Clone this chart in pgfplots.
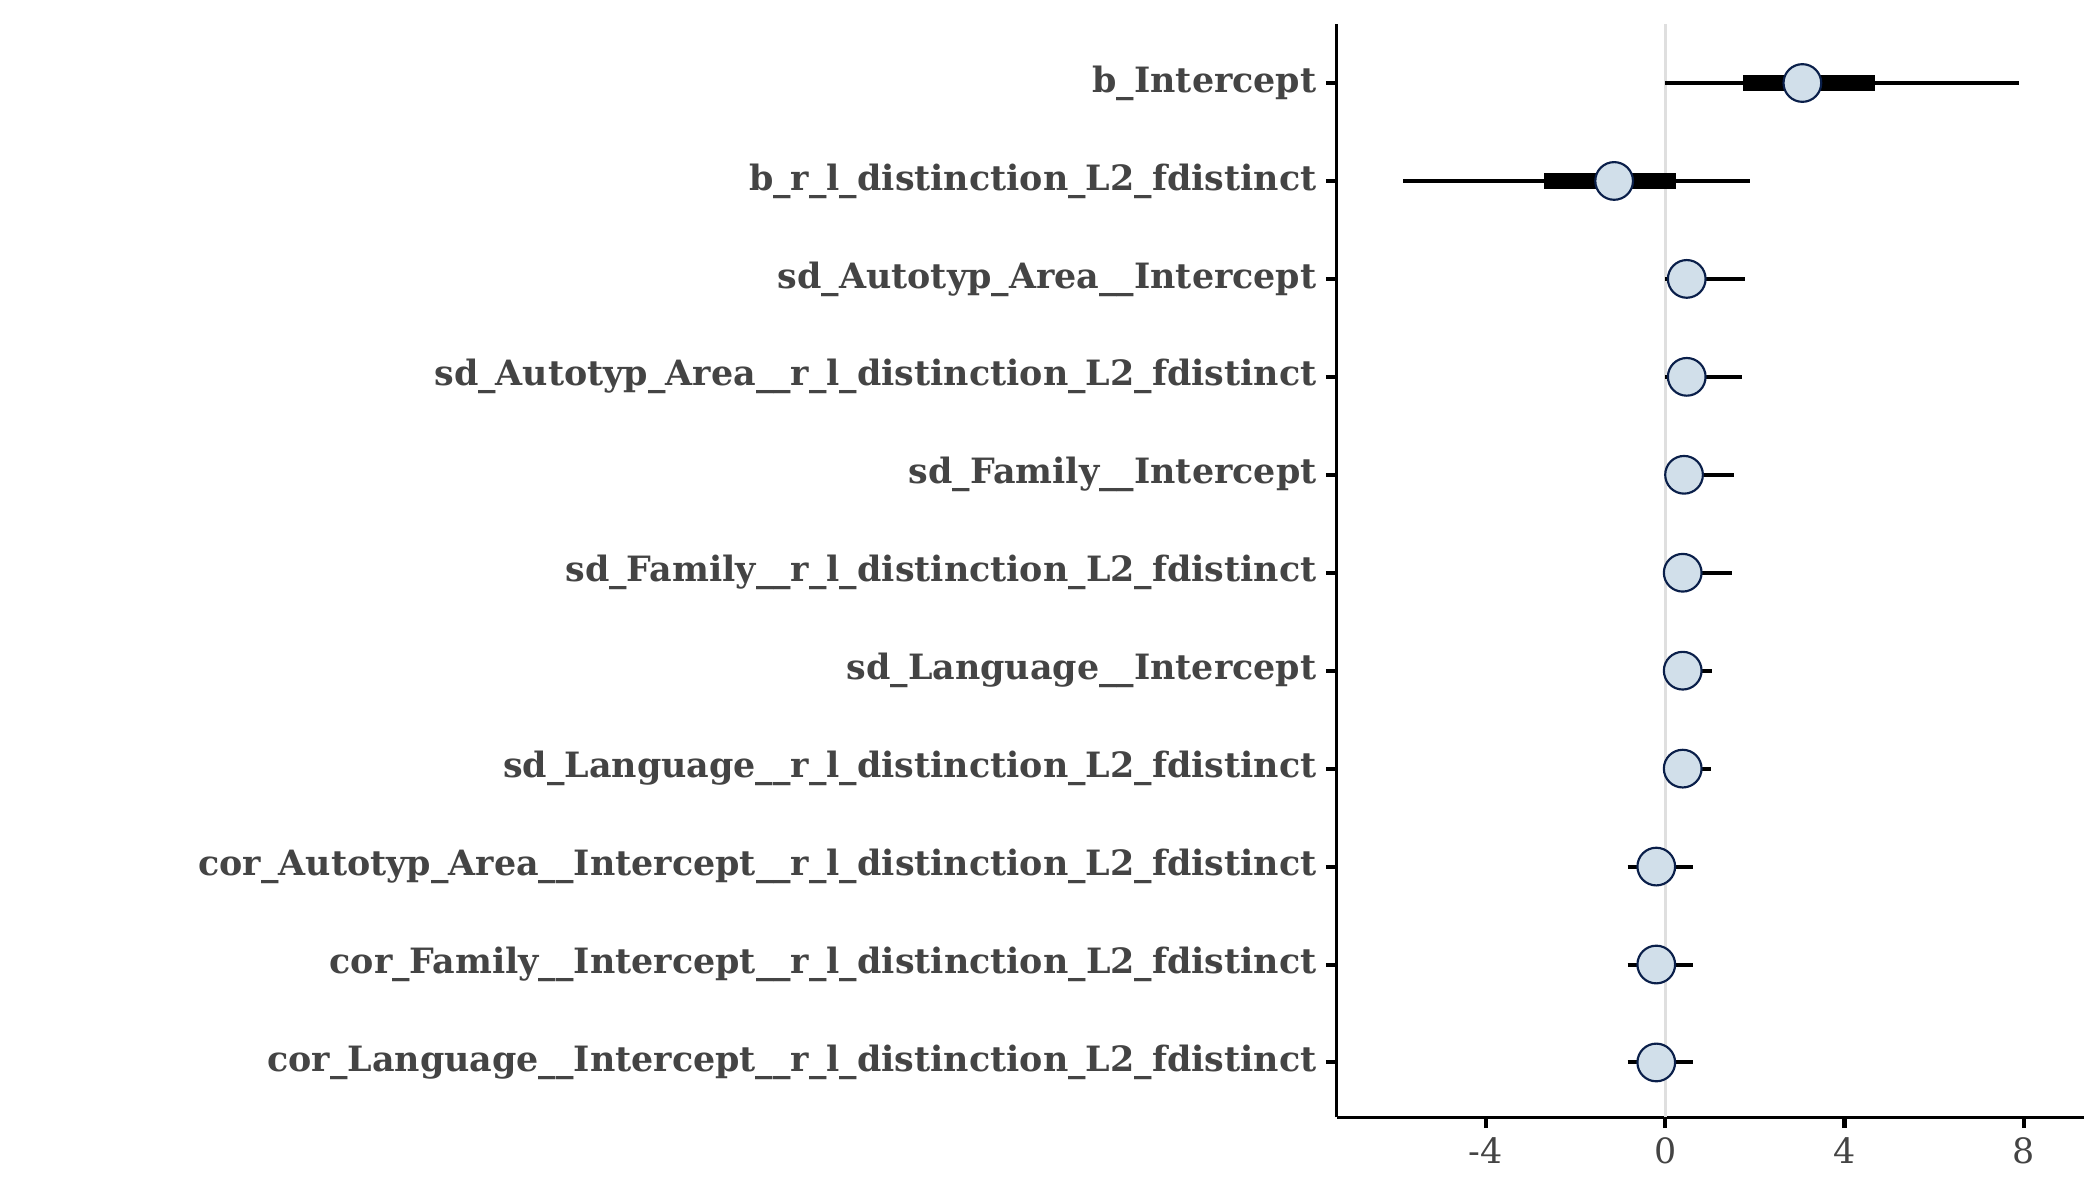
\documentclass[border=0pt]{standalone}
\usepackage{pgfplots}
\pgfplotsset{compat=1.18}
\usepackage{fontspec}
\setmainfont{DejaVu Serif}
\definecolor{thin}{HTML}{5B96BB}
\definecolor{thick}{HTML}{003A70}
\definecolor{mfill}{HTML}{D1DFEA}
\definecolor{medge}{HTML}{0A1F4A}
\definecolor{lab}{HTML}{444444}
\begin{document}
\begin{tikzpicture}
\useasboundingbox (0bp,0bp) rectangle (780bp,-445.5bp);
\begin{axis}[at={(496.5bp,-415bp)},anchor=south west,
  width=277.5bp,height=406bp,scale only axis,
  xmin=-7.33,xmax=9.34,ymin=0.44,ymax=11.6,
  axis x line*=bottom, axis y line*=left,
  axis line style={line width=1bp,black},
  tick align=outside,
  xtick={-4,0,4,8}, xticklabels={-4,0,4,8},
  major tick length=4bp,
  every tick/.style={line width=1.5bp,black},
  ytick={1,...,11},
  yticklabels={cor\_Language\_\_Intercept\_\_r\_l\_distinction\_L2\_fdistinct,
    cor\_Family\_\_Intercept\_\_r\_l\_distinction\_L2\_fdistinct,
    cor\_Autotyp\_Area\_\_Intercept\_\_r\_l\_distinction\_L2\_fdistinct,
    sd\_Language\_\_r\_l\_distinction\_L2\_fdistinct,
    sd\_Language\_\_Intercept,
    sd\_Family\_\_r\_l\_distinction\_L2\_fdistinct,
    sd\_Family\_\_Intercept,
    sd\_Autotyp\_Area\_\_r\_l\_distinction\_L2\_fdistinct,
    sd\_Autotyp\_Area\_\_Intercept,
    b\_r\_l\_distinction\_L2\_fdistinct,
    b\_Intercept},
  yticklabel style={font=\fontsize{13}{15}\selectfont\bfseries,text=lab},
  xticklabel style={font=\fontsize{13}{15}\selectfont,text=lab},
  /pgf/number format/assume math mode=true,
  clip=false]
\addplot[gray!25,line width=1.2bp,forget plot] coordinates {(0,0.44)(0,11.6)};
\addplot[thin,line width=1.5bp] coordinates {(0,11)(7.9,11)};
\addplot[thin,line width=1.5bp] coordinates {(-5.85,10)(1.89,10)};
\addplot[thin,line width=1.5bp] coordinates {(0,9)(1.77,9)};
\addplot[thin,line width=1.5bp] coordinates {(0,8)(1.71,8)};
\addplot[thin,line width=1.5bp] coordinates {(0,7)(1.53,7)};
\addplot[thin,line width=1.5bp] coordinates {(0,6)(1.5,6)};
\addplot[thin,line width=1.5bp] coordinates {(0,5)(1.05,5)};
\addplot[thin,line width=1.5bp] coordinates {(0,4)(1.02,4)};
\addplot[thin,line width=1.5bp] coordinates {(-0.84,3)(0.63,3)};
\addplot[thin,line width=1.5bp] coordinates {(-0.84,2)(0.63,2)};
\addplot[thin,line width=1.5bp] coordinates {(-0.84,1)(0.63,1)};
\addplot[thick,line width=6bp] coordinates {(1.74,11)(4.68,11)};
\addplot[thick,line width=6bp] coordinates {(-2.7,10)(0.24,10)};
\addplot[thick,line width=6bp] coordinates {(0.15,9)(0.85,9)};
\addplot[thick,line width=6bp] coordinates {(0.15,8)(0.85,8)};
\addplot[thick,line width=6bp] coordinates {(0.12,7)(0.75,7)};
\addplot[thick,line width=6bp] coordinates {(0.12,6)(0.72,6)};
\addplot[thick,line width=6bp] coordinates {(0.15,5)(0.65,5)};
\addplot[thick,line width=6bp] coordinates {(0.15,4)(0.63,4)};
\addplot[thick,line width=6bp] coordinates {(-0.5,3)(0.15,3)};
\addplot[thick,line width=6bp] coordinates {(-0.5,2)(0.15,2)};
\addplot[thick,line width=6bp] coordinates {(-0.5,1)(0.15,1)};
\addplot[only marks,mark=*,mark size=7bp,mark options={fill=mfill,draw=medge,line width=0.8bp}]
 coordinates {(3.06,11)(-1.14,10)(0.48,9)(0.48,8)(0.42,7)(0.39,6)(0.39,5)(0.39,4)(-0.2,3)(-0.2,2)(-0.2,1)};
\end{axis}
\end{tikzpicture}
\end{document}
